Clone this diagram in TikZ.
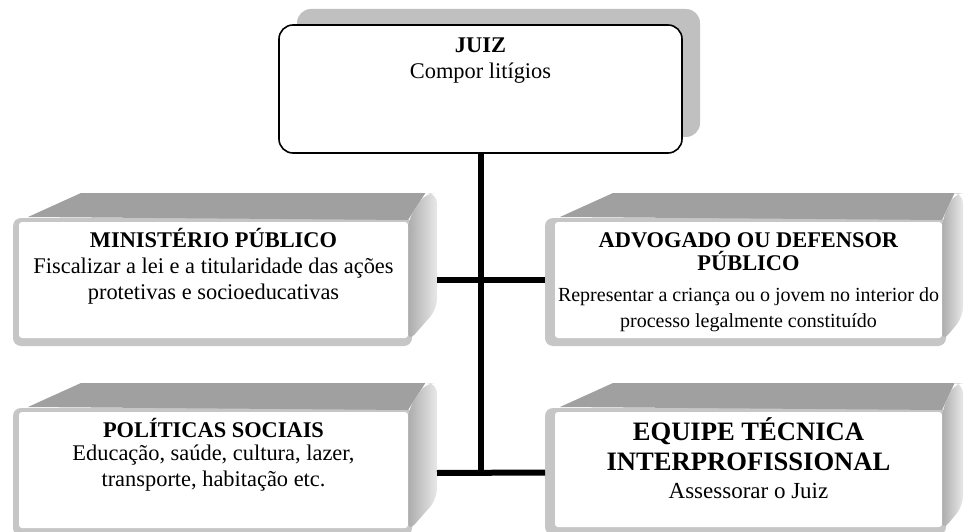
\documentclass[tikz,border=0pt]{standalone}
\usepackage{fontspec}
\setmainfont{Liberation Serif}
\usetikzlibrary{calc, shadows, backgrounds}

\definecolor{shadowgray}{HTML}{C0C0C0}
\definecolor{topgray}{HTML}{A0A0A0}
\definecolor{rimgray}{HTML}{C6C6C6}
\definecolor{sidedark}{HTML}{ACACAC}
\definecolor{sidelight}{HTML}{E8E8E8}

\setlength{\lineskiplimit}{-50pt}

\tikzset{
every node/.append style={font=\fontsize{22.4}{26}\selectfont, outer sep=0pt},
face/.style={rectangle, fill=white, rounded corners=3, anchor=north west, align=flush center,
  inner xsep=1pt, inner ysep=0pt, text width=387pt, text height=25pt, text depth=91pt},
juizbox/.style={rectangle, draw, line width=1.6pt, rounded corners=14, fill=white,
  anchor=north west, align=flush center, inner xsep=5pt, inner ysep=0pt, text width=393pt,
  text height=28pt, text depth=100pt,
  drop shadow={shadow xshift=18pt, shadow yshift=16pt, fill=shadowgray, opacity=1}},
trunk/.style={line width=6pt},
}

% grey bevel round a face: node, side depth, left rim
\newcommand{\bevel}[3]{%
  \begin{pgfonlayer}{background}
    \fill[rimgray, rounded corners=8] ($(#1.north west)+(-#3,-4)$) rectangle ($(#1.south east)+(4,8)$);
    \fill[topgray] ($(#1.north west)+(15-#3,-5)$) -- ($(#1.north west)+(68-#3,-29)$)
      -- ($(#1.north east)+(0.6*#2,-29)$) -- ($(#1.north east)+(0,-2)$) -- cycle;
    \shade[left color=sidedark, right color=sidelight, rounded corners=10]
      ($(#1.north east)+(0,-2)$) -- ($(#1.north east)+(0.6*#2,-29)$) -- ($(#1.north east)+(#2,-29)$)
      -- ($(#1.south east)+(#2,-#2)$) -- ($(#1.south east)+(0,4)$) -- cycle;
  \end{pgfonlayer}}

\begin{document}
\begin{tikzpicture}[x=1pt, y=-1pt]
            \useasboundingbox (0,0) rectangle (964,532);

            \node[juizbox] (juiz) at (279,25) {\textbf{JUIZ}\\Compor litígios};

            \node[face] (mp) at (19,222) {\textbf{MINISTÉRIO PÚBLICO}\\Fiscalizar a lei e a titularidade das ações\\protetivas e socioeducativas};
            \node[face, text width=385pt] (adv) at (555,222) {\fontsize{22.4}{23}\selectfont\textbf{ADVOGADO OU DEFENSOR}\\\textbf{PÚBLICO}\\[8pt]{\fontsize{20}{23}\selectfont Representar a criança ou o jovem no interior do\\processo legalmente constituído}};
            \node[face] (ps) at (19,412) {\fontsize{22.4}{23.5}\selectfont\textbf{POLÍTICAS SOCIAIS}\\Educação, saúde, cultura, lazer,\\transporte, habitação etc.};
            \node[face, text width=385pt, text height=28pt, text depth=87pt] (eq) at (555,412) {\fontsize{26.6}{30}\selectfont\textbf{EQUIPE TÉCNICA}\\\textbf{INTERPROFISSIONAL}\\[2pt]{\fontsize{23}{28}\selectfont Assessorar o Juiz}};

            % bevels
            \bevel{mp}{29}{6}
            \bevel{adv}{21}{10}
            \bevel{ps}{29}{6}
            \bevel{eq}{21}{10}

            % connectors
            \coordinate (mp-side) at ($(mp.east)+(29,0)$);
            \coordinate (adv-side) at ($(adv.west)+(-10,0)$);
            \coordinate (ps-side) at ($(ps.east)+(29,3)$);
            \coordinate (eq-side) at ($(eq.west)+(-10,3)$);
            \draw[trunk] (juiz.south) -- (juiz.south |- ps-side);
            \draw[trunk] (mp-side) -- (adv-side);
            \draw[trunk] (ps-side) -- (eq-side);
\end{tikzpicture}
\end{document}
